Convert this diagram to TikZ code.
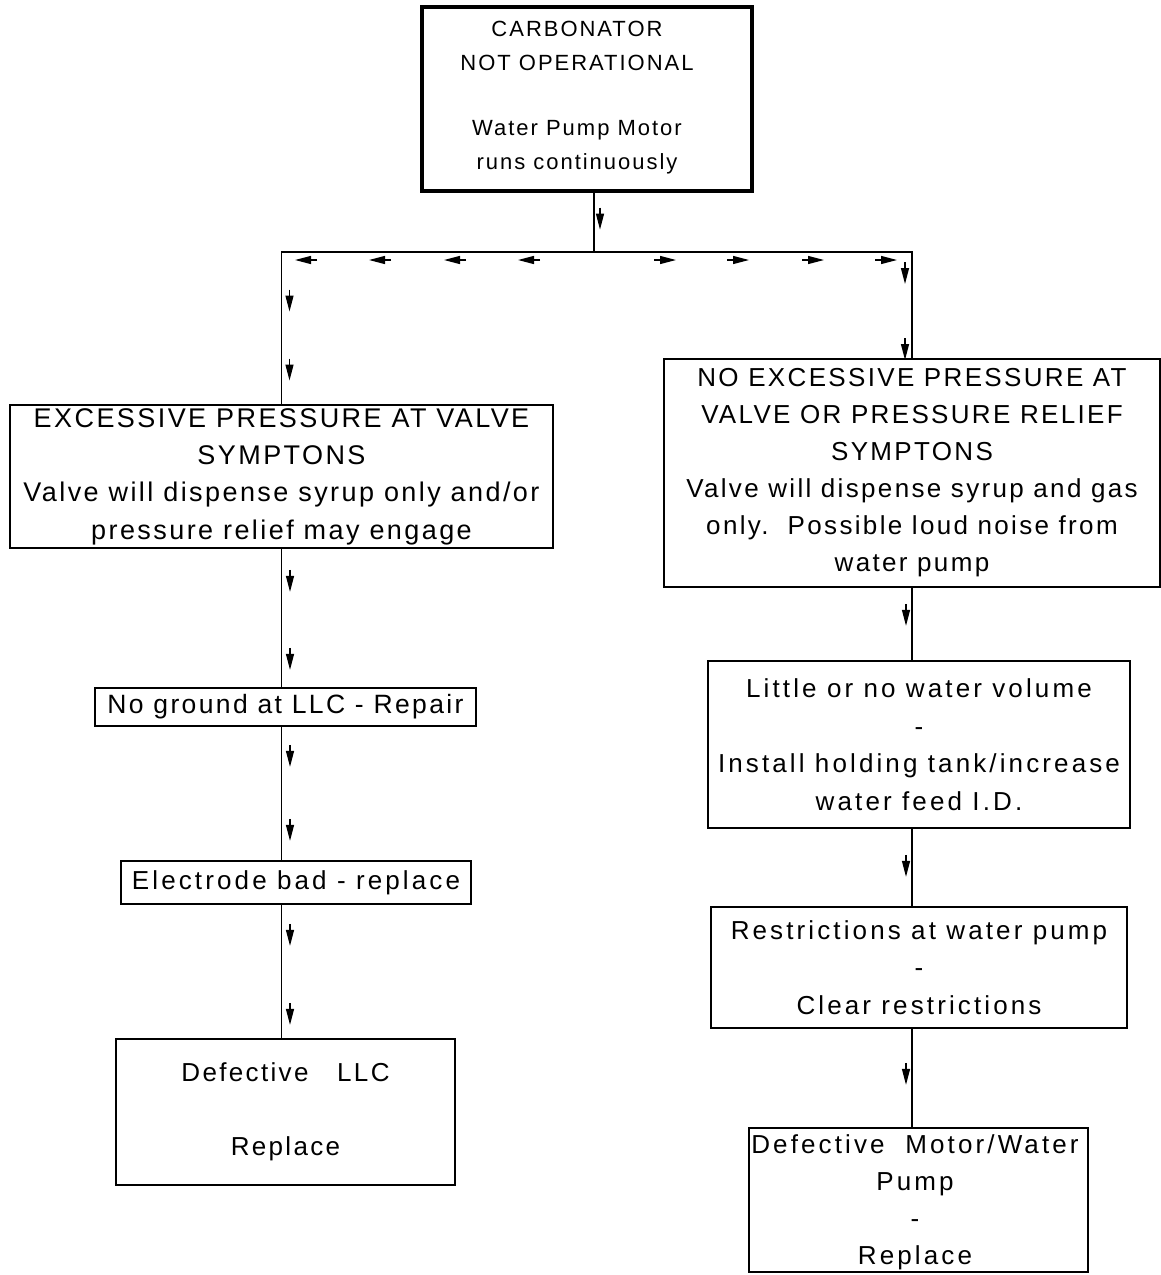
\documentclass[tikz,border=0pt]{standalone}
\usepackage{fontspec}
\setmainfont{Liberation Sans}
\newfontfamily\fA[LetterSpace=9]{Liberation Sans}
\newfontfamily\fB[LetterSpace=12]{Liberation Sans}
\usetikzlibrary{arrows.meta,decorations.markings}
\newcommand\amk[1]{\draw[marrow] (-11pt,#1) -- (11pt,#1);}
\begin{document}
\begin{tikzpicture}[x=1pt,y=-1pt,
  box/.style={draw, line width=1.7pt, rectangle, inner sep=0pt, align=center,
    font=\fA\fontsize{26}{37}\selectfont},
  wbox/.style={box, font=\fB\fontsize{26}{37.5}\selectfont},
  txt/.style={inner sep=0pt, align=center},
  conn/.style={line width=1.2pt, postaction={decorate}},
  marrow/.style={line width=1.3pt, -{Triangle[length=16pt,width=8pt]}},
]
\useasboundingbox (0,0) rectangle (1161,1275);

% nodes
\node[box, line width=3.2pt, minimum width=330pt, minimum height=184pt] (top) at (587,99) {};
\node[txt, font=\fA\fontsize{22}{34}\selectfont] (toptext) at (577,98)
  {CARBONATOR\\NOT OPERATIONAL\\[31pt]Water Pump Motor\\runs continuously};
\coordinate (J) at (594,252);

\node[box, minimum width=543pt, minimum height=143pt,
      font=\fA\fontsize{27}{37.3}\selectfont] (lbox) at (281.5,476.5)
  {EXCESSIVE PRESSURE AT VALVE\\SYMPTONS\\Valve will dispense syrup only and/or\\pressure relief may engage};
\node[box, minimum width=496pt, minimum height=228pt] (rbox) at (912,473)
  {NO EXCESSIVE PRESSURE AT\\VALVE OR PRESSURE RELIEF\\SYMPTONS\\Valve will dispense syrup and gas\\only.\ \ Possible loud noise from\\water pump};

\node[box, font=\fA\fontsize{26.5}{37}\selectfont, minimum width=381pt, minimum height=38pt] (nog) at (285.5,707)
  {No ground at LLC - Repair};
\node[wbox, minimum width=350pt, minimum height=43pt] (elec) at (296,882.5)
  {Electrode bad - replace};
\node[box, minimum width=339pt, minimum height=146pt] (llc) at (285.5,1112)
  {Defective\ \ \ LLC\\[37pt]Replace};

\node[wbox, minimum width=422pt, minimum height=167pt] (little) at (919,744.5)
  {Little or no water volume\\-\\Install holding tank/increase\\water feed I.D.};
\node[wbox, minimum width=416pt, minimum height=121pt] (restr) at (919,967.5)
  {Restrictions at water pump\\-\\Clear restrictions};
\node[box, minimum width=339pt, minimum height=144pt] (motor) at (918.5,1200) {};
\node[txt, font=\fB\fontsize{26}{37}\selectfont] (motortext) at (915,1202)
  {Defective\ \ Motor/Water\\Pump\\-\\Replace};

% connectors
\draw[conn, decoration={markings,
    mark=at position 26pt with {\amk{6pt}}}]
  (top.south -| J) -- (J);
\draw[conn, decoration={markings,
    mark=at position 65pt with {\amk{8pt}},
    mark=at position 139pt with {\amk{8pt}},
    mark=at position 214pt with {\amk{8pt}},
    mark=at position 288pt with {\amk{8pt}},
    mark=at position 361pt with {\amk{8pt}},
    mark=at position 430pt with {\amk{8pt}}}]
  (J) -| (lbox.north);
\draw[conn, decoration={markings,
    mark=at position 71pt with {\amk{-8pt}},
    mark=at position 144pt with {\amk{-8pt}},
    mark=at position 219pt with {\amk{-8pt}},
    mark=at position 292pt with {\amk{-8pt}},
    mark=at position 339pt with {\amk{-7pt}},
    mark=at position 415pt with {\amk{-7pt}}}]
  (J) -| (rbox.north);

\draw[conn, decoration={markings,
    mark=at position 32pt with {\amk{8.5pt}},
    mark=at position 110pt with {\amk{8.5pt}}}]
  (lbox.south) -- (lbox.south |- nog.north);
\draw[conn, decoration={markings,
    mark=at position 29pt with {\amk{8.5pt}},
    mark=at position 103pt with {\amk{8.5pt}}}]
  (lbox.south |- nog.south) -- (lbox.south |- elec.north);
\draw[conn, decoration={markings,
    mark=at position 30pt with {\amk{8.5pt}},
    mark=at position 109pt with {\amk{8.5pt}}}]
  (lbox.south |- elec.south) -- (lbox.south |- llc.north);

\draw[conn, decoration={markings,
    mark=at position 27pt with {\amk{-6pt}}}]
  (rbox.south) -- (rbox.south |- little.north);
\draw[conn, decoration={markings,
    mark=at position 37pt with {\amk{-6pt}}}]
  (rbox.south |- little.south) -- (rbox.south |- restr.north);
\draw[conn, decoration={markings,
    mark=at position 45pt with {\amk{-6pt}}}]
  (rbox.south |- restr.south) -- (rbox.south |- motor.north);
\end{tikzpicture}
\end{document}
